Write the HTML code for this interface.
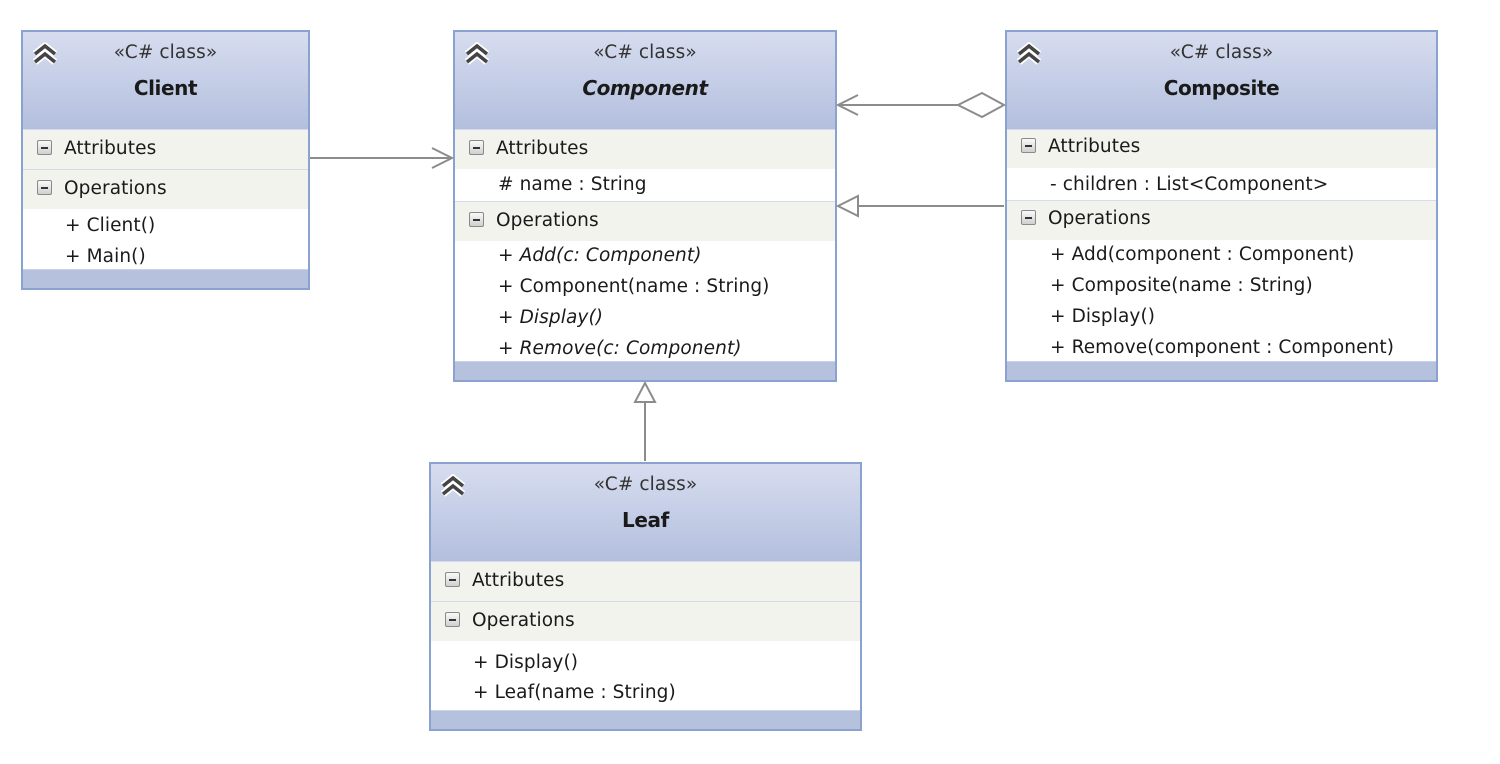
<!DOCTYPE html>
<html><head><meta charset="utf-8"><style>
body{margin:0;width:1500px;height:764px;background:#fff;position:relative;overflow:hidden;font-family:"DejaVu Sans","Liberation Sans",sans-serif;color:#1a1a1a}
.box{position:absolute;border:2px solid #8aa2cf;background:#fff;box-sizing:border-box}
.hd{position:absolute;left:0;right:0;top:0;height:97px;background:linear-gradient(#d7ddef,#b3bfde)}
.ft{position:absolute;left:0;right:0;bottom:0;height:18px;background:#b6c1de;border-top:1px solid #c9d3ea}
.sec{position:absolute;left:0;right:0;height:39px;background:#f1f3ec;border-top:1px solid #d3dcee}
.t{position:absolute;white-space:nowrap;font-size:18.5px;line-height:22px;letter-spacing:0.1px}
.c{left:0;right:0;text-align:center}
.st{color:#333}
.nm{font-weight:bold;font-size:20px;letter-spacing:-0.4px}
.i{font-style:italic}
.mb{position:absolute;width:13px;height:13px;border:1px solid #8a8a8a;border-radius:2px;background:linear-gradient(#fafafa,#cfcfcf)}
.mb:after{content:"";position:absolute;left:3px;right:3px;top:6px;height:2px;background:#333}
.chev{position:absolute;width:30px;height:24px}
</style></head><body>

<svg width="1500" height="764" style="position:absolute;left:0;top:0;z-index:5" fill="none" stroke="#8c8c8c" stroke-width="2">
<line x1="310" y1="158" x2="452" y2="158"/><polyline points="432,148 452,158 432,168"/>
<line x1="838" y1="105" x2="958" y2="105"/><polyline points="858,95 838,105 858,115"/>
<polygon points="958,105 982,93 1004,105 982,117" fill="#fff"/>
<line x1="858" y1="206" x2="1004" y2="206"/><polygon points="838,206 858,196 858,216" fill="#fff"/>
<line x1="645" y1="402" x2="645" y2="461"/><polygon points="645,383 635,402 655,402" fill="#fff"/>
</svg>

<!-- Client -->
<div class="box" style="left:21px;top:30px;width:289px;height:260px">
<div class="hd"></div>
<svg class="chev" style="left:7px;top:10px" viewBox="0 0 30 24"><g fill="none" stroke="#fff" stroke-width="7" stroke-linejoin="round"><polyline points="5,12 15,4 25,12"/><polyline points="5,20 15,12 25,20"/></g><g fill="none" stroke="#444" stroke-width="3.5"><polyline points="5,12 15,4 25,12"/><polyline points="5,20 15,12 25,20"/></g></svg>
<div class="t c st" style="top:10px">«C# class»</div>
<div class="t c nm" style="top:45px">Client</div>
<div class="sec" style="top:97px"></div><div class="mb" style="left:14px;top:108px"></div><div class="t" style="left:41px;top:106px">Attributes</div>
<div class="sec" style="top:137px"></div><div class="mb" style="left:14px;top:148px"></div><div class="t" style="left:41px;top:146px">Operations</div>
<div class="t" style="left:42px;top:183px">+ Client()</div>
<div class="t" style="left:42px;top:214px">+ Main()</div>
<div class="ft"></div>
</div>

<!-- Component -->
<div class="box" style="left:453px;top:30px;width:384px;height:352px">
<div class="hd"></div>
<svg class="chev" style="left:7px;top:10px" viewBox="0 0 30 24"><g fill="none" stroke="#fff" stroke-width="7"><polyline points="5,12 15,4 25,12"/><polyline points="5,20 15,12 25,20"/></g><g fill="none" stroke="#444" stroke-width="3.5"><polyline points="5,12 15,4 25,12"/><polyline points="5,20 15,12 25,20"/></g></svg>
<div class="t c st" style="top:10px">«C# class»</div>
<div class="t c nm i" style="top:45px">Component</div>
<div class="sec" style="top:97px"></div><div class="mb" style="left:14px;top:108px"></div><div class="t" style="left:41px;top:106px">Attributes</div>
<div class="t" style="left:43px;top:142px"># name : String</div>
<div class="sec" style="top:169px"></div><div class="mb" style="left:14px;top:180px"></div><div class="t" style="left:41px;top:178px">Operations</div>
<div class="t i" style="left:43px;top:213px">+ Add(c: Component)</div>
<div class="t" style="left:43px;top:244px">+ Component(name : String)</div>
<div class="t i" style="left:43px;top:275px">+ Display()</div>
<div class="t i" style="left:43px;top:306px">+ Remove(c: Component)</div>
<div class="ft"></div>
</div>

<!-- Composite -->
<div class="box" style="left:1005px;top:30px;width:433px;height:352px">
<div class="hd"></div>
<svg class="chev" style="left:7px;top:10px" viewBox="0 0 30 24"><g fill="none" stroke="#fff" stroke-width="7"><polyline points="5,12 15,4 25,12"/><polyline points="5,20 15,12 25,20"/></g><g fill="none" stroke="#444" stroke-width="3.5"><polyline points="5,12 15,4 25,12"/><polyline points="5,20 15,12 25,20"/></g></svg>
<div class="t c st" style="top:10px">«C# class»</div>
<div class="t c nm" style="top:45px">Composite</div>
<div class="sec" style="top:97px;height:38px"></div><div class="mb" style="left:14px;top:106px"></div><div class="t" style="left:41px;top:104px">Attributes</div>
<div class="t" style="left:43px;top:142px">- children : List&lt;Component&gt;</div>
<div class="sec" style="top:168px"></div><div class="mb" style="left:14px;top:178px"></div><div class="t" style="left:41px;top:176px">Operations</div>
<div class="t" style="left:43px;top:212px">+ Add(component : Component)</div>
<div class="t" style="left:43px;top:243px">+ Composite(name : String)</div>
<div class="t" style="left:43px;top:274px">+ Display()</div>
<div class="t" style="left:43px;top:305px">+ Remove(component : Component)</div>
<div class="ft"></div>
</div>

<!-- Leaf -->
<div class="box" style="left:429px;top:462px;width:433px;height:269px">
<div class="hd"></div>
<svg class="chev" style="left:7px;top:10px" viewBox="0 0 30 24"><g fill="none" stroke="#fff" stroke-width="7"><polyline points="5,12 15,4 25,12"/><polyline points="5,20 15,12 25,20"/></g><g fill="none" stroke="#444" stroke-width="3.5"><polyline points="5,12 15,4 25,12"/><polyline points="5,20 15,12 25,20"/></g></svg>
<div class="t c st" style="top:10px">«C# class»</div>
<div class="t c nm" style="top:45px">Leaf</div>
<div class="sec" style="top:97px"></div><div class="mb" style="left:14px;top:108px"></div><div class="t" style="left:41px;top:106px">Attributes</div>
<div class="sec" style="top:137px"></div><div class="mb" style="left:14px;top:148px"></div><div class="t" style="left:41px;top:146px">Operations</div>
<div class="t" style="left:42px;top:188px">+ Display()</div>
<div class="t" style="left:42px;top:218px">+ Leaf(name : String)</div>
<div class="ft"></div>
</div>

</body></html>
